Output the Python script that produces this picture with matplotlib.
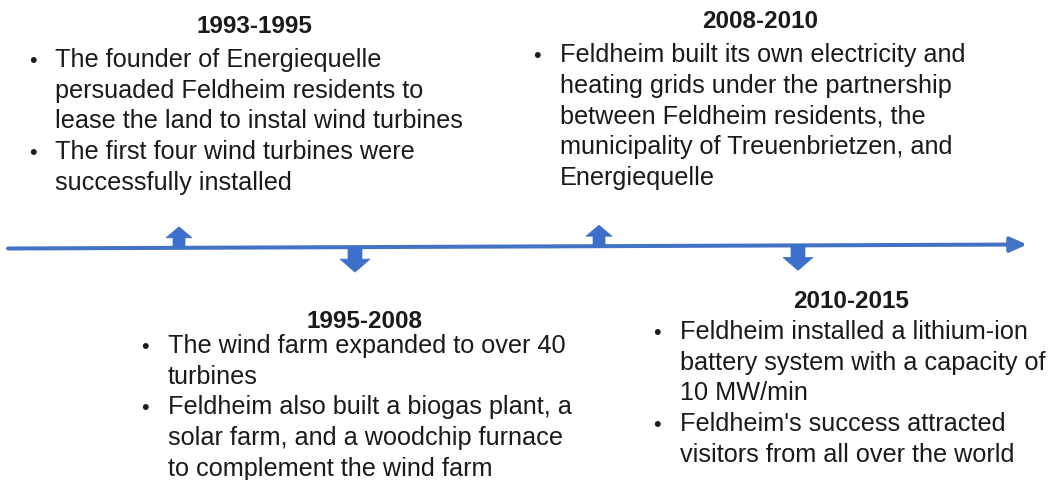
import matplotlib
matplotlib.use("Agg")
import matplotlib.pyplot as plt
from matplotlib.patches import Polygon

# ---- data ----
periods = ["1993-1995", "1995-2008", "2008-2010", "2010-2015"]
sides = ["up", "down", "up", "down"]
bullets = [
    [["The founder of Energiequelle",
      "persuaded Feldheim residents to",
      "lease the land to instal wind turbines"],
     ["The first four wind turbines were",
      "successfully installed"]],
    [["The wind farm expanded to over 40",
      "turbines"],
     ["Feldheim also built a biogas plant, a",
      "solar farm, and a woodchip furnace",
      "to complement the wind farm"]],
    [["Feldheim built its own electricity and",
      "heating grids under the partnership",
      "between Feldheim residents, the",
      "municipality of Treuenbrietzen, and",
      "Energiequelle"]],
    [["Feldheim installed a lithium-ion",
      "battery system with a capacity of",
      "10 MW/min"],
     ["Feldheim's success attracted",
      "visitors from all over the world"]],
]

# ---- layout (pixel coordinates) ----
W, H = 1054, 481
arrow_x = [179, 355, 599, 798]
head_x = [254, 365, 760, 851]
head_base = [33, 328, 28, 308]
bullet_x = [33, 145, 537, 657]
text_x = [55, 168, 560, 680]
body_base = [67, 353, 62, 339]
line_h = 30.7

LINE_COL = "#4472C4"
ARROW_COL = "#3C6FCA"
TEXT_COL = "#1a1a1a"
FONT = "Liberation Sans"

fig = plt.figure(figsize=(W / 100, H / 100), dpi=100)
ax = fig.add_axes([0, 0, 1, 1])
ax.set_xlim(0, W)
ax.set_ylim(H, 0)
ax.axis("off")

x0, y0, x1, y1 = 8, 249.5, 1027, 245.5


def line_y(x):
    return y0 + (y1 - y0) * (x - x0) / (x1 - x0)


ax.annotate("", xy=(x1, y1), xytext=(x0, y0),
            arrowprops=dict(arrowstyle="-|>,head_length=1.0,head_width=0.45",
                            lw=2.9, color=LINE_COL, shrinkA=0, shrinkB=0))

for xc, side in zip(arrow_x, sides):
    yb = line_y(xc)
    if side == "up":
        sw, hw, hh, tot, d = 6, 13, 11, 21, -1
    else:
        sw, hw, hh, tot, d = 7, 15, 13, 25, 1
    tip = yb + d * tot
    hb = tip - d * hh
    pts = [(xc - sw, yb), (xc - sw, hb), (xc - hw, hb), (xc, tip),
           (xc + hw, hb), (xc + sw, hb), (xc + sw, yb)]
    ax.add_patch(Polygon(pts, closed=True, facecolor=ARROW_COL,
                         edgecolor=ARROW_COL, lw=0.5, zorder=3))

for i, period in enumerate(periods):
    ax.text(head_x[i], head_base[i], period, ha="center", va="baseline",
            fontsize=17.5, fontweight="bold", family=FONT, color=TEXT_COL)
    y = body_base[i]
    for para in bullets[i]:
        ax.text(bullet_x[i], y, "\u2022", ha="center", va="baseline",
                fontsize=15.5, family=FONT, color=TEXT_COL)
        for ln in para:
            ax.text(text_x[i], y, ln, ha="left", va="baseline",
                    fontsize=18.2, family=FONT, color=TEXT_COL)
            y += line_h

fig.savefig("out.png", dpi=100)
